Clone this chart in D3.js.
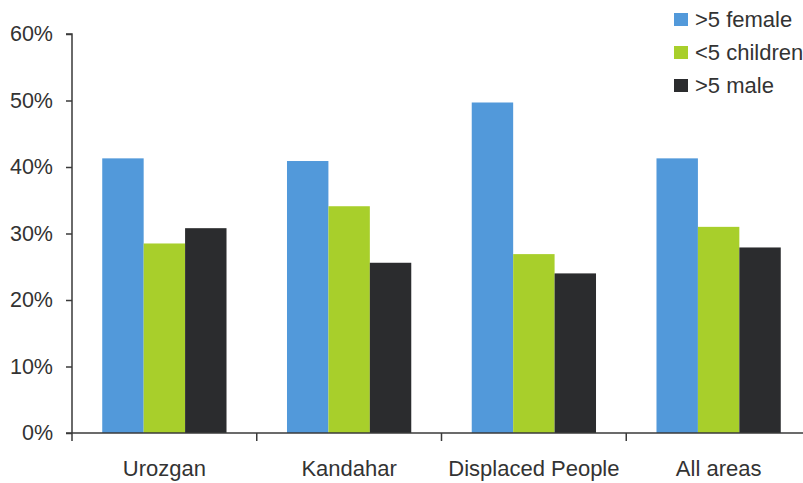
<!DOCTYPE html>
<html>
<head>
<meta charset="utf-8">
<script src="https://cdn.jsdelivr.net/npm/d3@7/dist/d3.min.js"></script>
<style>
  html, body { margin: 0; padding: 0; background: #fff; }
  svg { display: block; font-family: "Liberation Sans", Arial, sans-serif; }
</style>
</head>
<body>
<svg id="chart" width="803" height="483"></svg>
<script>
// Share of cases by group and area
const categories = ["Urozgan", "Kandahar", "Displaced People", "All areas"];
const seriesNames = [">5 female", "<5 children", ">5 male"];
const female = [41.3, 40.9, 49.7, 41.3];
const children = [28.5, 34.1, 26.9, 31.0];
const male = [30.8, 25.6, 24.0, 27.9];
const yTicks = [0, 10, 20, 30, 40, 50, 60];

const seriesValues = [female, children, male];
const colors = ["#5299da", "#a8cf2b", "#2b2c2e"];

const svg = d3.select("#chart");
const axisColor = "#3a3a3a";
const textColor = "#333";
const fontSize = 21.5;

const x0 = d3.scaleBand().domain(categories).range([72, 811]).paddingInner(0).paddingOuter(0);
const x1 = d3.scaleBand().domain(seriesNames).range([0, x0.bandwidth()]).paddingInner(0).paddingOuter(0.73);
const y = d3.scaleLinear().domain([0, 60]).range([433, 34]);

// bars
categories.forEach((cat, ci) => {
  const g = svg.append("g").attr("transform", `translate(${x0(cat)},0)`);
  seriesNames.forEach((s, si) => {
    const v = seriesValues[si][ci];
    g.append("rect")
      .attr("x", x1(s))
      .attr("y", y(v))
      .attr("width", x1.bandwidth())
      .attr("height", y(0) - y(v))
      .attr("fill", colors[si]);
  });
});

// y axis
const yAxis = svg.append("g").attr("transform", "translate(72,0)")
  .call(d3.axisLeft(y).tickValues(yTicks).tickSize(6).tickPadding(13).tickFormat(d => d + "%"));
yAxis.select(".domain").attr("stroke", axisColor).attr("stroke-width", 1.5).attr("d", `M-6,${y(60)}H0V${y(0)}`);
yAxis.selectAll(".tick line").attr("stroke", axisColor).attr("stroke-width", 1.5);
yAxis.selectAll(".tick text").attr("fill", textColor).attr("font-size", fontSize).attr("font-family", "Liberation Sans, Arial, sans-serif");

// x axis: boundary ticks between categories, labels centred in bands
const xAxis = svg.append("g").attr("transform", `translate(0,${y(0)})`)
  .call(d3.axisBottom(x0).tickSize(0).tickPadding(27));
xAxis.select(".domain").attr("stroke", axisColor).attr("stroke-width", 1.5).attr("d", "M66,0H803");
xAxis.selectAll(".tick text").attr("fill", textColor).attr("font-size", 22).attr("font-family", "Liberation Sans, Arial, sans-serif");
xAxis.selectAll(".boundary").data(categories).enter().append("line")
  .attr("class", "boundary")
  .attr("x1", d => x0(d)).attr("x2", d => x0(d))
  .attr("y1", 0).attr("y2", 8)
  .attr("stroke", axisColor).attr("stroke-width", 1.5);

// legend
const legend = svg.append("g").attr("transform", "translate(674,13)");
seriesNames.forEach((s, i) => {
  const row = legend.append("g").attr("transform", `translate(0,${i * 33})`);
  row.append("rect").attr("width", 14).attr("height", 13).attr("fill", colors[i]);
  row.append("text").attr("x", 21).attr("y", 14)
    .attr("font-size", 22).attr("fill", textColor).text(s);
});
</script>
</body>
</html>
